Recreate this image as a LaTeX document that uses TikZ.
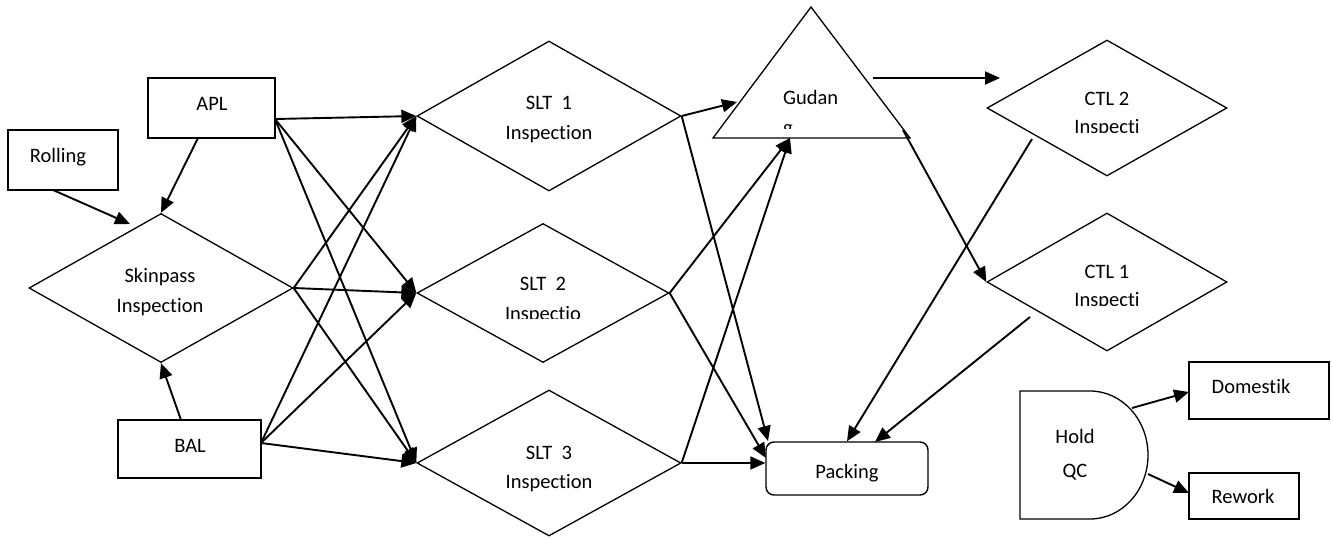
\documentclass[tikz,border=0pt]{standalone}
\usepackage{fontspec}
\setmainfont{Carlito}[Ligatures=NoCommon]
\usetikzlibrary{arrows.meta,shapes.geometric}
\begin{document}
\begin{tikzpicture}[x=1pt,y=-1pt,
  every node/.style={font=\fontsize{20.5}{24}\selectfont, inner sep=0pt},
  lbl/.style={anchor=base},
  box/.style={draw, line width=1.4pt, rectangle, inner sep=0pt},
  dmd/.style={draw, line width=1.3pt, diamond, inner sep=0pt},
  shapeline/.style={draw, line width=1.3pt, line join=miter},
  flow/.style={-{Triangle[length=15pt,width=13pt]}, line width=1.9pt},
]
\useasboundingbox (0,0) rectangle (1333,539);

% ---- source boxes ----
\node[box, minimum width=110pt, minimum height=60pt] (rolling) at (63,160) {};
\node[box, minimum width=127pt, minimum height=60pt] (apl) at (211.5,108) {};
\node[box, minimum width=143pt, minimum height=58pt] (bal) at (189.5,449) {};
\node[lbl] (rolling-t) at (58,162) {Rolling};
\node[lbl] (apl-t) at (212,110) {APL};
\node[lbl] (bal-t) at (190,452) {BAL};

% ---- inspection diamonds ----
\node[dmd, minimum width=264pt, minimum height=149pt] (skin) at (161,288) {};
\node[dmd, minimum width=264pt, minimum height=150pt] (slt1) at (549,116) {};
\node[dmd, minimum width=252pt, minimum height=139pt] (slt2) at (543,293) {};
\node[dmd, minimum width=264pt, minimum height=146pt] (slt3) at (549,463) {};
\node[dmd, minimum width=240pt, minimum height=136pt] (ctl2) at (1107,108) {};
\node[dmd, minimum width=240pt, minimum height=138pt] (ctl1) at (1107,282) {};

\node[lbl] (skin-t1) at (160,282) {Skinpass};
\node[lbl] (skin-t2) at (160,312) {Inspection};
\node[lbl] (slt1-t1) at (549,109) {SLT~~1};
\node[lbl] (slt1-t2) at (549,139) {Inspection};
\node[lbl] (slt2-t1) at (543,290) {SLT~~2};
\begin{scope}
  \clip (440,295) rectangle (650,318);
  \node[lbl] (slt2-t2) at (543,320) {Inspectio};
\end{scope}
\node[lbl] (slt3-t1) at (549,459) {SLT~~3};
\node[lbl] (slt3-t2) at (549,488) {Inspection};
\node[lbl] (ctl2-t1) at (1107,105) {CTL 2};
\begin{scope}
  \clip (1030,110) rectangle (1190,132);
  \node[lbl] (ctl2-t2) at (1107,133) {Inspecti};
\end{scope}
\node[lbl] (ctl1-t1) at (1107,278) {CTL 1};
\begin{scope}
  \clip (1030,283) rectangle (1190,305);
  \node[lbl] (ctl1-t2) at (1107,306) {Inspecti};
\end{scope}

% ---- warehouse triangle ----
\coordinate (g-apex) at (811,7);
\coordinate (g-bl) at (713,138);
\coordinate (g-br) at (910,138);
\draw[shapeline] (g-apex) -- (g-br) -- (g-bl) -- cycle;
\node[lbl, anchor=base west] (gudang-t1) at (783,104) {Gudan};
\begin{scope}
  \clip (770,110) rectangle (850,128);
  \node[lbl, anchor=base west] (gudang-t2) at (783,134) {g};
\end{scope}

% ---- packing ----
\node[draw, line width=1.4pt, rounded corners=8pt, minimum width=162pt, minimum height=53pt] (packing) at (847,468.5) {};
\node[lbl] (packing-t) at (847,478) {Packing};

% ---- hold QC (delay shape) and its outputs ----
\draw[shapeline] (1020,391) -- (1090,391) arc[start angle=90, end angle=-90, x radius=58pt, y radius=64pt] -- (1020,519) -- cycle;
\node[lbl] (hold-t1) at (1075,443) {Hold};
\node[lbl] (hold-t2) at (1075,477) {QC};
\node[box, minimum width=140pt, minimum height=57pt] (domestik) at (1259,390.5) {};
\node[box, minimum width=110pt, minimum height=46pt] (rework) at (1244,496) {};
\node[lbl] (domestik-t) at (1251,393) {Domestik};
\node[lbl] (rework-t) at (1243,503) {Rework};

% ---- connector end points ----
\coordinate (rollout) at (53,190);
\coordinate (skin-in) at (130,224);
\coordinate (aplsk) at (198,138);
\coordinate (aplout) at (275,119);
\coordinate (balsk) at (181,420);
\coordinate (balout) at (261,443);
\coordinate (g-left) at (737,102);
\coordinate (g-base) at (790,138);
\coordinate (g-out1) at (873,78);
\coordinate (ctl2-in) at (1000,78);
\coordinate (g-out2) at (903,130);
\coordinate (pk-tl) at (768,441);
\coordinate (pk-l) at (766,458);
\coordinate (ctl2-out) at (1032,139);
\coordinate (ctl1-out) at (1030,317);
\coordinate (pk-top2) at (875,442);
\coordinate (hold-o1) at (1132,408);
\coordinate (hold-o2) at (1148,474);
\coordinate (dom-in) at (1189,392);
\coordinate (rew-in) at (1189,493);

% ---- connectors ----
\draw[flow] (rollout) -- (skin-in);
\draw[flow] (aplsk) -- (skin.north);
\draw[flow] (balsk) -- (skin.south);

\foreach \s in {aplout, skin.east, balout}{
  \draw[flow] (\s) -- (slt1.west);
  \draw[flow] (\s) -- (slt2.west);
  \draw[flow] (\s) -- (slt3.west);
}

\draw[flow] (slt1.east) -- (g-left);
\draw[flow] (slt1.east) -- (pk-tl);
\draw[flow] (slt2.east) -- (g-base);
\draw[flow] (slt2.east) -- (pk-l);
\draw[flow] (slt3.east) -- (g-base);
\draw[flow] (slt3.east) -- (packing.west |- slt3.east);

\draw[flow] (g-out1) -- (ctl2-in);
\draw[flow] (g-out2) -- (ctl1.west);
\draw[flow] (ctl2-out) -- (packing.north);
\draw[flow] (ctl1-out) -- (pk-top2);

\draw[flow] (hold-o1) -- (dom-in);
\draw[flow] (hold-o2) -- (rew-in);
\end{tikzpicture}
\end{document}
